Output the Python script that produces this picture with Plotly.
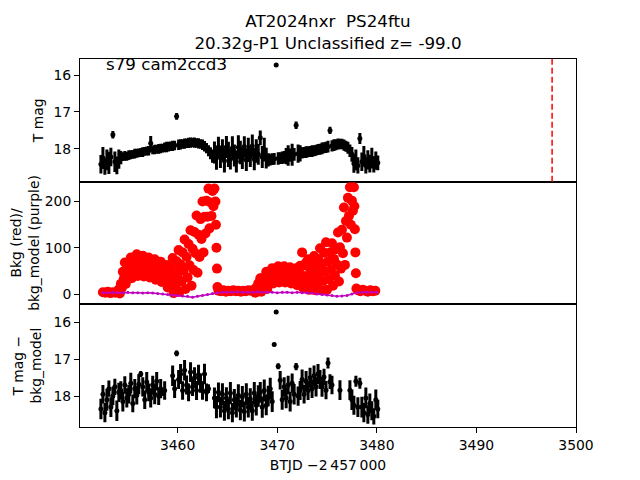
"""TESS sector light curve for AT2024nxr: T mag, background and T mag minus bkg model."""

import plotly.graph_objects as go
from plotly.subplots import make_subplots

# shared time grid for the photometry (BTJD - 2457000)
btjd = [
    3452.3, 3452.5, 3452.7, 3452.9, 3453.1, 3453.3, 3453.5, 3453.7, 3453.9, 3454.1,
    3454.3, 3454.5, 3454.7, 3454.9, 3455.1, 3455.3, 3455.5, 3455.7, 3455.9, 3456.1,
    3456.3, 3456.5, 3456.7, 3456.9, 3457.1, 3457.3, 3457.5, 3457.7, 3457.9, 3458.1,
    3458.3, 3458.5, 3458.7, 3458.9, 3459.1, 3459.3, 3459.5, 3459.7, 3459.9, 3460.1,
    3460.3, 3460.5, 3460.7, 3460.9, 3461.1, 3461.3, 3461.5, 3461.7, 3461.9, 3462.1,
    3462.3, 3462.5, 3462.7, 3462.9, 3463.1, 3463.3, 3463.5, 3463.7, 3463.9, 3464.1,
    3464.3, 3464.5, 3464.7, 3464.9, 3465.1, 3465.3, 3465.5, 3465.7, 3465.9, 3466.1,
    3466.3, 3466.5, 3466.7, 3466.9, 3467.1, 3467.3, 3467.5, 3467.7, 3467.9, 3468.1,
    3468.3, 3468.5, 3468.7, 3468.9, 3469.1, 3469.3, 3469.5, 3469.7, 3469.9, 3470.1,
    3470.3, 3470.5, 3470.7, 3470.9, 3471.1, 3471.3, 3471.5, 3471.7, 3471.9, 3472.1,
    3472.3, 3472.5, 3472.7, 3472.9, 3473.1, 3473.3, 3473.5, 3473.7, 3473.9, 3474.1,
    3474.3, 3474.5, 3474.7, 3474.9, 3475.1, 3475.3, 3475.5, 3475.7, 3475.9, 3476.1,
    3476.3, 3476.5, 3476.7, 3476.9, 3477.1, 3477.3, 3477.5, 3477.7, 3477.9, 3478.1,
    3478.3, 3478.5, 3478.7, 3478.9, 3479.1, 3479.3, 3479.5, 3479.7, 3479.9, 3480.1,
]

tmag = [
    18.42, 18.25, 18.48, 18.30, 18.38, 18.22, 17.62, 18.35, 18.45, 18.28,
    18.24, 18.21, 18.19, 18.20, 18.17, 18.16, 18.15, 18.13, 18.12, 18.11,
    18.10, 18.09, 18.07, 18.06, 18.05, 17.85, 18.03, 18.02, 18.01, 18.00,
    17.99, 17.98, 17.96, 17.95, 17.94, 17.93, 17.92, 17.91, 17.12, 17.89,
    17.88, 17.87, 17.86, 17.85, 17.84, 17.83, 17.83, 17.83, 17.84, 17.85,
    17.87, 17.89, 17.93, 17.98, 18.05, 18.12, 18.20, 18.10, 18.25, 17.95,
    18.22, 18.02, 18.32, 17.95, 18.15, 18.28, 17.98, 18.18, 18.34, 17.96,
    18.10, 18.25, 17.94, 18.30, 18.03, 18.20, 17.92, 18.28, 18.06, 18.15,
    17.70, 18.22, 18.02, 18.25, 18.30, 18.29, 18.28, 18.27, 15.73, 18.26,
    18.25, 18.24, 18.23, 18.20, 18.18, 18.17, 18.16, 18.15, 17.36, 18.13,
    18.12, 18.11, 18.10, 18.09, 18.08, 18.07, 18.06, 18.05, 18.04, 18.02,
    18.01, 17.99, 17.97, 17.96, 17.94, 17.50, 17.92, 17.90, 17.89, 17.87,
    17.87, 17.87, 17.90, 17.93, 17.97, 18.05, 18.15, 18.40, 18.30, 18.45,
    17.72, 18.35, 18.20, 18.45, 18.30, 18.40, 18.25, 18.42, 18.32, 18.38,
]
tmag_err = [
    0.25, 0.30, 0.22, 0.28, 0.30, 0.25, 0.10, 0.28, 0.24, 0.26,
    0.18, 0.12, 0.13, 0.12, 0.13, 0.12, 0.12, 0.13, 0.12, 0.12,
    0.12, 0.13, 0.12, 0.12, 0.13, 0.20, 0.12, 0.13, 0.12, 0.13,
    0.13, 0.12, 0.13, 0.14, 0.13, 0.13, 0.14, 0.13, 0.09, 0.14,
    0.14, 0.13, 0.14, 0.13, 0.14, 0.14, 0.13, 0.14, 0.13, 0.14,
    0.13, 0.14, 0.14, 0.14, 0.15, 0.16, 0.18, 0.30, 0.32, 0.28,
    0.30, 0.28, 0.32, 0.30, 0.34, 0.28, 0.32, 0.30, 0.30, 0.33,
    0.32, 0.30, 0.28, 0.30, 0.33, 0.29, 0.31, 0.30, 0.32, 0.28,
    0.20, 0.30, 0.32, 0.28, 0.18, 0.16, 0.16, 0.16, 0.05, 0.17,
    0.16, 0.17, 0.17, 0.22, 0.28, 0.18, 0.30, 0.17, 0.10, 0.25,
    0.22, 0.15, 0.15, 0.16, 0.15, 0.15, 0.16, 0.15, 0.15, 0.15,
    0.15, 0.16, 0.15, 0.15, 0.16, 0.10, 0.15, 0.16, 0.15, 0.15,
    0.14, 0.14, 0.15, 0.15, 0.16, 0.17, 0.20, 0.25, 0.28, 0.22,
    0.15, 0.25, 0.28, 0.22, 0.26, 0.24, 0.28, 0.22, 0.25, 0.20,
]

diff_mag = [
    18.35, 17.95, 18.45, 18.10, 17.80, 18.30, 18.00, 17.75, 18.40, 17.90,
    17.85, 18.15, 17.70, 18.05, 17.95, 17.65, 18.20, 17.80, 17.98, 17.68,
    17.40, 17.75, 18.10, 17.62, 17.90, 18.05, 17.70, 17.95, 17.60, 18.00,
    17.80, 17.90, 17.85, None, None, None, 17.45, 17.80, 16.84, 17.55,
    17.40, 17.85, 17.30, 17.70, 17.90, 17.35, 17.75, 17.50, 17.85, 17.42,
    17.65, 17.85, 17.40, 17.90, 17.80, None, None, 18.05, 18.30, 17.90,
    18.30, 17.95, 18.40, 18.05, 18.35, 17.92, 18.45, 18.10, 18.30, 17.98,
    18.38, 18.02, 18.42, 17.95, 18.30, 18.08, 18.40, 17.92, 18.25, 18.00,
    17.90, 18.30, 17.85, 18.25, 18.00, 17.80, 18.15, 16.60, 15.72, 17.19,
    17.57, 18.10, 17.75, 18.05, 17.70, 18.15, 17.65, 17.95, 17.20, 18.00,
    17.85, 17.55, 17.95, 17.60, 17.85, 17.50, 17.80, 17.45, 17.75, 17.40,
    17.55, 17.75, 17.48, 17.84, 17.10, 17.61, 17.70, None, None, None,
    17.84, None, None, None, None, 17.84, 18.10, 18.25, 17.60, 18.30,
    17.65, 18.30, 18.45, 18.05, 18.50, 18.20, 18.40, 18.55, 18.10, 18.35,
]
diff_err = [
    0.28, 0.25, 0.26, 0.30, 0.22, 0.27, 0.25, 0.22, 0.28, 0.26,
    0.25, 0.27, 0.24, 0.26, 0.25, 0.28, 0.24, 0.26, 0.25, 0.27,
    0.08, 0.26, 0.25, 0.27, 0.24, 0.26, 0.25, 0.27, 0.25, 0.24,
    0.26, 0.10, 0.25, 0.00, 0.00, 0.00, 0.28, 0.25, 0.08, 0.26,
    0.27, 0.25, 0.28, 0.26, 0.24, 0.27, 0.25, 0.28, 0.26, 0.27,
    0.26, 0.25, 0.28, 0.24, 0.12, 0.00, 0.00, 0.28, 0.30, 0.27,
    0.28, 0.30, 0.27, 0.29, 0.28, 0.30, 0.26, 0.29, 0.28, 0.30,
    0.28, 0.29, 0.27, 0.30, 0.28, 0.29, 0.27, 0.30, 0.28, 0.29,
    0.28, 0.29, 0.30, 0.27, 0.28, 0.30, 0.28, 0.05, 0.05, 0.08,
    0.25, 0.27, 0.26, 0.28, 0.25, 0.27, 0.26, 0.28, 0.10, 0.26,
    0.26, 0.27, 0.25, 0.28, 0.26, 0.27, 0.25, 0.28, 0.26, 0.27,
    0.26, 0.27, 0.22, 0.25, 0.15, 0.20, 0.25, 0.00, 0.00, 0.00,
    0.27, 0.00, 0.00, 0.00, 0.00, 0.27, 0.28, 0.26, 0.15, 0.27,
    0.15, 0.28, 0.26, 0.28, 0.25, 0.27, 0.26, 0.22, 0.28, 0.25,
]

# background flux samples
bkg_btjd = [
    3452.5, 3452.75, 3453.0, 3453.25, 3453.5, 3453.75, 3454.0,
    3454.1, 3454.2, 3454.3, 3454.4, 3454.5, 3454.6, 3454.7, 3454.8, 3454.9, 3455.0,
    3455.1, 3455.2, 3455.3, 3455.4, 3455.5, 3455.6, 3455.7, 3455.8, 3455.9, 3456.0,
    3456.1, 3456.2, 3456.3, 3456.4, 3456.5, 3456.6, 3456.7, 3456.8, 3456.9, 3457.0,
    3457.1, 3457.2, 3457.3, 3457.4, 3457.5, 3457.6, 3457.7, 3457.8, 3457.9, 3458.0,
    3458.1, 3458.2, 3458.3, 3458.4, 3458.5, 3458.6, 3458.7, 3458.8, 3458.9, 3459.0,
    3459.1, 3459.2, 3459.3, 3459.4, 3459.5, 3459.6, 3459.7, 3459.8, 3459.9, 3460.0,
    3460.1, 3460.2, 3460.3, 3460.4, 3460.5, 3460.6, 3460.7, 3460.8, 3460.9, 3461.0,
    3461.1, 3461.2, 3461.3, 3461.4, 3461.5, 3461.6, 3461.7, 3461.8, 3461.9, 3462.0,
    3462.1, 3462.2, 3462.3, 3462.4, 3462.5, 3462.6, 3462.7, 3462.8, 3462.9, 3463.0,
    3463.1, 3463.2, 3463.3, 3463.4, 3463.5, 3463.6, 3463.7,
    3463.8, 3463.85, 3463.9, 3463.95, 3464.0,
    3464.1, 3464.35, 3464.6, 3464.85, 3465.1, 3465.35, 3465.6, 3465.85,
    3466.1, 3466.35, 3466.6, 3466.85, 3467.1, 3467.35, 3467.6,
    3467.7, 3467.8, 3467.9, 3468.0, 3468.1, 3468.2, 3468.3, 3468.4, 3468.5, 3468.6,
    3468.7, 3468.8, 3468.9, 3469.0, 3469.1, 3469.2, 3469.3, 3469.4, 3469.5, 3469.6,
    3469.7, 3469.8, 3469.9, 3470.0, 3470.1, 3470.2, 3470.3, 3470.4, 3470.5, 3470.6,
    3470.7, 3470.8, 3470.9, 3471.0, 3471.1, 3471.2, 3471.3, 3471.4, 3471.5, 3471.6,
    3471.7, 3471.8, 3471.9, 3472.0, 3472.1, 3472.2, 3472.3, 3472.4, 3472.5, 3472.6,
    3472.7, 3472.8, 3472.9, 3473.0, 3473.1, 3473.2, 3473.3, 3473.4, 3473.5, 3473.6,
    3473.7, 3473.8, 3473.9, 3474.0, 3474.1, 3474.2, 3474.3, 3474.4, 3474.5, 3474.6,
    3474.7, 3474.8, 3474.9, 3475.0, 3475.1, 3475.2, 3475.3, 3475.4, 3475.5, 3475.6,
    3475.7, 3475.8, 3475.9, 3476.0, 3476.1, 3476.2, 3476.3, 3476.4, 3476.5, 3476.6,
    3476.7, 3476.8, 3476.9, 3477.0, 3477.1, 3477.2, 3477.3, 3477.4, 3477.5, 3477.6,
    3477.7,
    3477.75, 3477.8, 3477.85, 3477.9, 3477.95,
    3478.1, 3478.35, 3478.6, 3478.85, 3479.1, 3479.35, 3479.6, 3479.85,
]
bkg_flux = [
    4, 3, 5, 2, 4, 3, 5,
    10, 1, 22, 13, 48, 33, 68, 22, 56, 38,
    69, 50, 79, 34, 62, 45, 74, 56, 86, 39,
    69, 49, 77, 57, 83, 38, 64, 46, 71, 53,
    79, 36, 62, 44, 68, 50, 75, 31, 56, 38,
    63, 45, 70, 26, 51, 32, 57, 37, 63, 14,
    42, 21, 58, 33, 78, 2, 50, 18, 71, 38,
    95, 5, 64, 27, 90, 51, 118, 11, 80, 36,
    108, 62, 138, 18, 98, 52, 134, 88, 170, 46,
    128, 80, 162, 119, 200, 90, 167, 131, 202, 167,
    228, 142, 198, 169, 223, 190, 228,
    200, 150, 100, 55, 15,
    7, 6, 8, 5, 7, 6, 8, 6,
    7, 5, 7, 6, 8, 7, 6,
    10, 3, 14, 8, 23, 15, 34, 5, 26, 13,
    37, 23, 48, 11, 36, 22, 46, 33, 56, 23,
    45, 32, 52, 39, 60, 25, 46, 32, 53, 39,
    60, 25, 46, 32, 52, 38, 58, 23, 43, 28,
    49, 34, 56, 19, 40, 26, 61, 42, 90, 13,
    62, 28, 68, 37, 75, 9, 47, 21, 62, 36,
    82, 8, 56, 24, 76, 43, 99, 8, 66, 28,
    89, 49, 112, 9, 70, 32, 90, 52, 110, 18,
    76, 40, 97, 64, 133, 27, 101, 55, 139, 88,
    187, 63, 158, 122, 208, 169, 231, 150, 202, 180,
    231,
    190, 140, 90, 45, 12,
    8, 6, 9, 7, 5, 8, 6, 7,
]

model_btjd = [
    3452.5, 3453.0, 3453.5, 3454.0, 3454.5, 3455.0, 3455.5, 3456.0, 3456.5, 3457.0,
    3457.5, 3458.0, 3458.5, 3459.0, 3459.5, 3460.0, 3460.5, 3461.0, 3461.5, 3462.0,
    3462.5, 3463.0, 3463.5, 3464.0, 3464.5, 3465.0, 3465.5, 3466.0, 3466.5, 3467.0,
    3467.5, 3468.0, 3468.5, 3469.0, 3469.5, 3470.0, 3470.5, 3471.0, 3471.5, 3472.0,
    3472.5, 3473.0, 3473.5, 3474.0, 3474.5, 3475.0, 3475.5, 3476.0, 3476.5, 3477.0,
    3477.5, 3478.0, 3478.5, 3479.0, 3479.5, 3480.0,
]
bkg_model = [
    3, 3, 4, 3, 3, 4, 3, 3, 2, 3,
    2, 1, 0, -1, -3, -3, -4, -5, -7, -5,
    -3, -1, 1, 3, 4, 4, 4, 5, 4, 4,
    4, 5, 4, 4, 4, 3, 4, 4, 3, 4,
    3, 3, 2, 0, -1, -2, -3, -5, -4, -3,
    0, 3, 4, 4, 4, 4,
]

event_btjd = 3497.6
mag_ticks = [16, 17, 18]
bkg_ticks = [0, 100, 200]
time_ticks = [3460, 3470, 3480, 3490, 3500]

FONT = "DejaVu Sans"
LABEL = dict(family=FONT, size=13.9, color="black")

fig = make_subplots(rows=3, cols=1, shared_xaxes=True, vertical_spacing=0)

fig.add_trace(
    go.Scatter(
        x=btjd, y=tmag, mode="markers",
        marker=dict(color="black", size=5),
        error_y=dict(type="data", array=tmag_err, color="black", thickness=3, width=0),
    ),
    row=1, col=1,
)
fig.add_vline(x=event_btjd, line=dict(color="red", width=1.5, dash="6px,3px"), row=1, col=1)

fig.add_trace(
    go.Scatter(x=bkg_btjd, y=bkg_flux, mode="markers", marker=dict(color="red", size=10)),
    row=2, col=1,
)
fig.add_trace(
    go.Scatter(
        x=model_btjd, y=bkg_model, mode="lines+markers",
        line=dict(color="#bf00bf", width=1.5), marker=dict(color="#bf00bf", size=3),
    ),
    row=2, col=1,
)

fig.add_trace(
    go.Scatter(
        x=btjd, y=diff_mag, mode="markers",
        marker=dict(color="black", size=5),
        error_y=dict(type="data", array=diff_err, color="black", thickness=3, width=0),
    ),
    row=3, col=1,
)

axis_style = dict(
    showline=True, mirror=True, linecolor="black", linewidth=1,
    showgrid=False, zeroline=False, tickcolor="black", ticklen=5,
    automargin=False, tickfont=LABEL,
)
fig.update_xaxes(range=[3450.2, 3500], tickvals=time_ticks, **axis_style)
fig.update_xaxes(ticks="", row=1, col=1)
fig.update_xaxes(ticks="", row=2, col=1)
fig.update_xaxes(
    ticks="outside",
    title=dict(text="BTJD \u22122\u2009457\u2009000", standoff=8, font=LABEL),
    row=3, col=1,
)
fig.update_yaxes(ticks="outside", **axis_style)
fig.update_yaxes(range=[18.89, 15.565], tickvals=mag_ticks,
                 title=dict(text="T mag", standoff=6, font=LABEL), row=1, col=1)
fig.update_yaxes(range=[-22.3, 243], tickvals=bkg_ticks,
                 title=dict(text="Bkg (red)/<br>bkg_model (purple)", standoff=3, font=LABEL),
                 row=2, col=1)
fig.update_yaxes(range=[18.84, 15.51], tickvals=mag_ticks,
                 title=dict(text="T mag \u2212<br>bkg_model", standoff=8, font=LABEL),
                 row=3, col=1)

fig.add_annotation(
    text="s79 cam2ccd3", xref="x domain", yref="y domain", x=0.05, y=0.96,
    xanchor="left", yanchor="middle", showarrow=False,
    font=dict(size=16.7, color="black", family=FONT), borderpad=0,
)

# the page body adds an 8 px offset, so the margins are shifted to compensate
fig.update_layout(
    width=640, height=480,
    margin=dict(l=72, r=72, t=51, b=61, autoexpand=False),
    paper_bgcolor="white", plot_bgcolor="white",
    font=LABEL,
    showlegend=False,
    title=dict(
        text="AT2024nxr\u00a0 PS24ftu<br>20.32g-P1 Unclassified z= -99.0",
        x=0.5, xref="paper", xanchor="center", y=0.96, yref="container", yanchor="top",
        font=dict(size=16.7, color="black", family=FONT),
    ),
)

fig.write_html("out.html")
